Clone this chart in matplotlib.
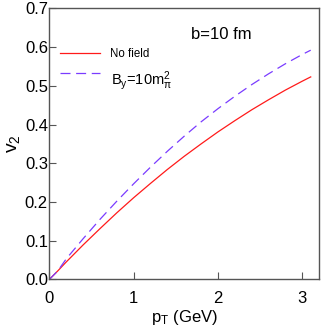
import matplotlib
matplotlib.use("Agg")
import matplotlib.pyplot as plt

plt.rcParams['font.family'] = ['Liberation Sans', 'DejaVu Sans']
plt.rcParams['mathtext.default'] = 'regular'

# values
pt = [0, 0.1, 0.2, 0.4, 0.6, 0.8, 1.0, 1.2, 1.4, 1.6, 1.8, 2.0, 2.2, 2.4, 2.6, 2.8, 3.0, 3.1]
v2_nofield = [0, 0.022, 0.045, 0.089, 0.131, 0.172, 0.211, 0.248, 0.284, 0.318, 0.350,
              0.381, 0.410, 0.438, 0.464, 0.489, 0.512, 0.523]
v2_field = [0, 0.022, 0.053, 0.105, 0.155, 0.202, 0.247, 0.290, 0.331, 0.370, 0.407,
            0.441, 0.473, 0.503, 0.531, 0.557, 0.581, 0.592]
labels = ['No field', 'B$_y$=10m$_\\pi^2$']
xticks = [0, 1, 2, 3]
yticks = [0.0, 0.1, 0.2, 0.3, 0.4, 0.5, 0.6, 0.7]

fig = plt.figure(figsize=(3.27, 3.35), dpi=100)
ax = fig.add_axes([0.151, 0.166, 0.825, 0.809])

l1, = ax.plot(pt, v2_nofield, color='#ff1a1a', lw=0.9)
l2, = ax.plot(pt, v2_field, color='#7a3cff', lw=0.9, dashes=(8, 4.5))

ax.set_xlim(0, 3.2)
ax.set_ylim(0, 0.7)
ax.set_xticks(xticks)
ax.set_yticks(yticks)
ax.set_xticklabels([str(t) for t in xticks])
ax.set_yticklabels(['%.1f' % t for t in yticks])
ax.tick_params(direction='in', length=5, width=0.8, color='#555555',
               labelsize=12)
ax.tick_params(axis='y', pad=1)
ax.tick_params(axis='x', pad=8)
for s in ax.spines.values():
    s.set_color('#555555')
    s.set_linewidth(1.0)

ax.set_xlabel('p$_T$ (GeV)', fontsize=12, labelpad=2)
ax.set_ylabel('v$_2$', fontsize=14, labelpad=2)

ax.text(0.636, 0.905, 'b=10 fm', transform=ax.transAxes, fontsize=12,
        ha='center', va='center')

# legend: handle samples from legend(), labels as text (different sizes)
common = dict(loc='center left', frameon=False, borderaxespad=0, borderpad=0,
              fontsize=10, handlelength=2.88, handletextpad=0)
leg1 = ax.legend([l1], [''], bbox_to_anchor=(0.04, 0.832), **common)
ax.add_artist(leg1)
ax.legend([l2], [''], bbox_to_anchor=(0.04, 0.760), **common)
ax.text(0.2246, 0.821, labels[0], transform=ax.transAxes, fontsize=8.3,
        va='baseline')
ax.text(0.228, 0.717, labels[1], transform=ax.transAxes, fontsize=10.5,
        va='baseline')

fig.savefig('out.png', dpi=100)
